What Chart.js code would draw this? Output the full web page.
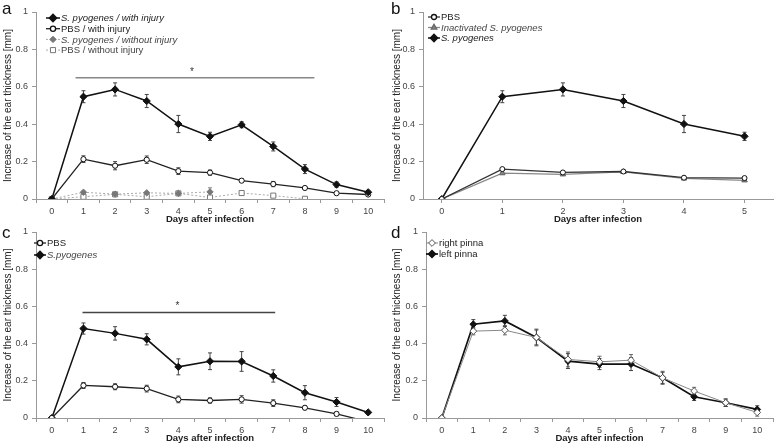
<!DOCTYPE html>
<html>
<head>
<meta charset="utf-8">
<script src="https://cdn.jsdelivr.net/npm/chart.js@4.4.0/dist/chart.umd.min.js"></script>
<style>
	body { margin: 0; background: #fff; width: 778px; height: 445px; position: relative; overflow: hidden; font-family: 'Liberation Sans', Arial, sans-serif; }
	canvas { position: absolute; }
	.tag { position: absolute; font-size: 17px; color: #111; line-height: 1; }
</style>
</head>
<body>
<canvas id="pa" width="389" height="226" style="left:0;top:0"></canvas>
<canvas id="pb" width="389" height="226" style="left:389px;top:0"></canvas>
<canvas id="pc" width="389" height="223" style="left:0;top:222px"></canvas>
<canvas id="pd" width="389" height="223" style="left:389px;top:222px"></canvas>
<div class="tag" style="left:2px;top:0">a</div>
<div class="tag" style="left:391px;top:0">b</div>
<div class="tag" style="left:2px;top:224px">c</div>
<div class="tag" style="left:391px;top:224px">d</div>
<script>
// days on the x axis
const days10 = ['0', '1', '2', '3', '4', '5', '6', '7', '8', '9', '10'];
const days5 = [0, 1, 2, 3, 4, 5];

// panel a
const aSpInj = [0, 0.547, 0.586, 0.524, 0.401, 0.335, 0.397, 0.281, 0.16, 0.077, 0.036];
const aSpInjErr = [0, 0.032, 0.035, 0.035, 0.046, 0.022, 0.016, 0.024, 0.024, 0.014, 0.01];
const aPbsInj = [0, 0.213, 0.178, 0.21, 0.149, 0.141, 0.098, 0.08, 0.059, 0.031, 0.024];
const aPbsInjErr = [0, 0.018, 0.022, 0.02, 0.018, 0.014, 0.01, 0.014, 0.006, 0.004, 0.004];
const aSpNoInj = [0, 0.036, 0.026, 0.033, 0.03, 0.038];
const aSpNoInjErr = [0, 0.006, 0.004, 0.006, 0.004, 0.022];
const aPbsNoInj = [0, 0.012, 0.025, 0.012, 0.03, 0.008, 0.032, 0.018, 0.001];
const aPbsNoInjErr = [0, 0.003, 0.003, 0.003, 0.003, 0.003, 0.003, 0.003, 0.002];
const aSig = [0.75, 8.3, 0.648, 4.43]; // from, to, height, star

// panel b
const bPbs = [0, 0.16, 0.142, 0.147, 0.114, 0.112];
const bPbsErr = [0, 0.005, 0.005, 0.005, 0.006, 0.005];
const bInact = [0, 0.138, 0.132, 0.145, 0.11, 0.1];
const bInactErr = [0, 0.005, 0.005, 0.005, 0.005, 0.006];
const bSp = [0, 0.547, 0.586, 0.524, 0.401, 0.335];
const bSpErr = [0, 0.032, 0.035, 0.035, 0.046, 0.022];

// panel c
const cPbs = [0, 0.175, 0.168, 0.158, 0.1, 0.094, 0.1, 0.08, 0.055, 0.022, -0.02];
const cPbsErr = [0, 0.016, 0.016, 0.018, 0.018, 0.014, 0.02, 0.018, 0.01, 0.01, 0];
const cSp = [0, 0.481, 0.455, 0.423, 0.275, 0.305, 0.304, 0.226, 0.136, 0.086, 0.03];
const cSpErr = [0, 0.03, 0.036, 0.03, 0.043, 0.045, 0.053, 0.033, 0.038, 0.024, 0.006];
const cSig = [0.97, 7.06, 0.567, 3.97];

// panel d
const dRight = [0, 0.467, 0.472, 0.433, 0.315, 0.302, 0.311, 0.216, 0.145, 0.082, 0.03];
const dRightErr = [0, 0.02, 0.025, 0.045, 0.04, 0.03, 0.03, 0.035, 0.02, 0.02, 0.02];
const dLeft = [0, 0.504, 0.522, 0.433, 0.306, 0.29, 0.29, 0.216, 0.114, 0.082, 0.046];
const dLeftErr = [0, 0.025, 0.03, 0.04, 0.04, 0.03, 0.035, 0.03, 0.02, 0.02, 0.02];

Chart.defaults.font.family = "'Liberation Sans', Arial, sans-serif";

const errorBars = {
	id: 'errorBars',
	beforeDatasetsDraw(chart) {
		const ctx = chart.ctx;
		const y = chart.scales.y;
		ctx.save();
		ctx.beginPath();
		ctx.rect(chart.chartArea.left, chart.chartArea.top - 20, chart.chartArea.width, chart.chartArea.height + 20);
		ctx.clip();
		chart.data.datasets.forEach((ds, i) => {
			if (!ds.errors) return;
			const meta = chart.getDatasetMeta(i);
			ctx.strokeStyle = ds.errorColor || '#444';
			ctx.lineWidth = 1;
			meta.data.forEach((pt, j) => {
				const e = ds.errors[j];
				if (!e) return;
				const v = ds.data[j];
				const top = y.getPixelForValue(v + e);
				const bot = y.getPixelForValue(v - e);
				ctx.beginPath();
				ctx.moveTo(pt.x, top); ctx.lineTo(pt.x, bot);
				ctx.moveTo(pt.x - 2, top); ctx.lineTo(pt.x + 2, top);
				ctx.moveTo(pt.x - 2, bot); ctx.lineTo(pt.x + 2, bot);
				ctx.stroke();
			});
		});
		ctx.restore();
	}
};

const sigLine = {
	id: 'sigLine',
	afterDatasetsDraw(chart, args, opts) {
		if (!opts.range) return;
		const [from, to, h, star] = opts.range;
		const ctx = chart.ctx;
		const x = chart.scales.x, y = chart.scales.y;
		const py = y.getPixelForValue(h);
		ctx.save();
		ctx.strokeStyle = opts.color || '#888';
		ctx.lineWidth = 1.5;
		ctx.beginPath();
		ctx.moveTo(x.getPixelForValue(from), py);
		ctx.lineTo(x.getPixelForValue(to), py);
		ctx.stroke();
		ctx.fillStyle = '#333';
		ctx.font = "10px 'Liberation Sans', Arial";
		ctx.textAlign = 'center';
		ctx.textBaseline = 'bottom';
		ctx.fillText('*', x.getPixelForValue(star), py - 1);
		ctx.restore();
	}
};

// legend with line + marker + per-item italic text
const keyBox = {
	id: 'keyBox',
	afterDraw(chart, args, opts) {
		const ctx = chart.ctx;
		ctx.save();
		chart.data.datasets.forEach((ds, i) => {
			const y = opts.y + i * opts.gap;
			const x = opts.x;
			ctx.strokeStyle = ds.borderColor;
			ctx.lineWidth = ds.borderWidth;
			ctx.setLineDash(ds.borderDash || []);
			ctx.beginPath();
			ctx.moveTo(x, y); ctx.lineTo(x + opts.len, y);
			ctx.stroke();
			ctx.setLineDash([]);
			ctx.fillStyle = ds.pointBackgroundColor;
			ctx.strokeStyle = ds.pointBorderColor;
			Chart.helpers.drawPoint(ctx, {
				pointStyle: ds.pointStyle, rotation: 0,
				radius: ds.keyRadius || ds.pointRadius, borderWidth: 1
			}, x + opts.len / 2, y);
			ctx.fillStyle = ds.labelColor || '#222';
			ctx.font = (ds.italic ? 'italic ' : '') + "9.5px 'Liberation Sans', Arial";
			ctx.textBaseline = 'middle';
			ctx.fillText(ds.label, x + opts.len + 1, y + 0.5);
		});
		ctx.restore();
	}
};

function line(label, data, errors, style) {
	return Object.assign({
		label: label,
		data: data,
		errors: errors,
		borderColor: '#111',
		borderWidth: 1.5,
		pointStyle: 'circle',
		pointRadius: 2.6,
		pointBackgroundColor: '#fff',
		pointBorderColor: '#111',
		pointBorderWidth: 1,
		tension: 0,
		fill: false
	}, style);
}

const spStyle = { pointStyle: 'rectRot', pointRadius: 3.6, pointBackgroundColor: '#111', italic: true };

function panel(id, labels, datasets, cfg) {
	const xAxis = {
		type: cfg.linear ? 'linear' : 'category',
		offset: !cfg.linear,
		min: cfg.linear ? cfg.xMin : undefined,
		max: cfg.linear ? cfg.xMax : undefined,
		grid: { display: true, drawOnChartArea: false, offset: !cfg.linear, tickLength: 4, color: '#999' },
		border: { color: '#999' },
		ticks: { color: '#444', font: { size: 9 }, padding: 3, maxRotation: 0, autoSkip: false, stepSize: 1 },
		title: {
			display: true, text: 'Days after infection', color: '#222',
			font: { size: 9.5, weight: 'bold' }, padding: { top: 0, bottom: 1 }
		},
		afterFit: s => { s.height = cfg.xh; }
	};
	if (cfg.linear) {
		xAxis.afterBuildTicks = s => { s.ticks = labels.map(v => ({ value: v })); };
	}
	new Chart(document.getElementById(id), {
		type: 'line',
		data: { labels: labels, datasets: datasets },
		options: {
			responsive: false,
			animation: false,
			devicePixelRatio: 1,
			layout: { padding: { top: cfg.top, right: cfg.right, left: 0, bottom: 0 } },
			scales: {
				x: xAxis,
				y: {
					min: 0,
					max: 1,
					grid: { display: true, drawOnChartArea: false, tickLength: 4, color: '#999' },
					border: { color: '#999' },
					ticks: {
						stepSize: 0.2, color: '#444', font: { size: 9 }, padding: 4,
						callback: v => String(Math.round(v * 10) / 10)
					},
					title: {
						display: true, text: 'Increase of the ear thickness [mm]', color: '#222',
						font: { size: 10 }, padding: { top: 2, bottom: 0 }
					},
					afterFit: s => { s.width = cfg.yw; }
				}
			},
			plugins: {
				legend: { display: false },
				tooltip: { enabled: false },
				sigLine: { range: cfg.sig, color: cfg.sigColor },
				keyBox: cfg.key
			}
		},
		plugins: [errorBars, sigLine, keyBox]
	});
}

panel('pa', days10, [
	line('S. pyogenes / with injury', aSpInj, aSpInjErr, spStyle),
	line('PBS / with injury', aPbsInj, aPbsInjErr, { borderColor: '#222', borderWidth: 1.3 }),
	line('S. pyogenes / without injury', aSpNoInj, aSpNoInjErr, {
		borderColor: '#aaa', borderWidth: 1, borderDash: [2, 2], pointStyle: 'rectRot', pointRadius: 3.2,
		pointBackgroundColor: '#777', pointBorderColor: '#777', errorColor: '#888', italic: true, labelColor: '#444'
	}),
	line('PBS / without injury', aPbsNoInj, aPbsNoInjErr, {
		borderColor: '#aaa', borderWidth: 1, borderDash: [2, 2], pointStyle: 'rect', pointRadius: 3.6,
		pointBorderColor: '#777', errorColor: '#999', labelColor: '#444'
	})
], { xh: 27, yw: 36, top: 12, right: 2, sig: aSig, sigColor: '#888', key: { x: 46, y: 18, gap: 10.7, len: 14 } });

panel('pb', days5, [
	line('PBS', bPbs, bPbsErr, { borderColor: '#333', borderWidth: 1.3, pointRadius: 2.5 }),
	line('Inactivated S. pyogenes', bInact, bInactErr, {
		borderColor: '#888', borderWidth: 1.3, pointStyle: 'triangle', pointRadius: 3.2,
		pointBackgroundColor: '#888', pointBorderColor: '#666', italic: true, labelColor: '#444'
	}),
	line('S. pyogenes', bSp, bSpErr, spStyle)
], { linear: true, xMin: -0.31, xMax: 5.47, xh: 27, yw: 34, top: 12, right: 1, key: { x: 39, y: 17, gap: 10.5, len: 12 } });

panel('pc', days10, [
	line('PBS', cPbs, cPbsErr, {
		borderColor: '#222', borderWidth: 1.3, keyRadius: 2.6,
		pointRadius: c => (c.raw < 0 ? 0 : 2.6)
	}),
	line('S.pyogenes', cSp, cSpErr, Object.assign({}, spStyle, { labelColor: '#444' }))
], { xh: 27, yw: 36, top: 10, right: 2, sig: cSig, sigColor: '#444', key: { x: 34, y: 21, gap: 12, len: 12 } });

panel('pd', days10, [
	line('right pinna', dRight, dRightErr, {
		borderColor: '#888', borderWidth: 1, pointStyle: 'rectRot', pointRadius: 3.4,
		pointBorderColor: '#555', errorColor: '#666'
	}),
	line('left pinna', dLeft, dLeftErr, { pointStyle: 'rectRot', pointRadius: 3.4, pointBackgroundColor: '#111', borderWidth: 1.7 })
], { xh: 27, yw: 37, top: 10, right: 1, key: { x: 37, y: 21, gap: 11, len: 12 } });
</script>
</body>
</html>
